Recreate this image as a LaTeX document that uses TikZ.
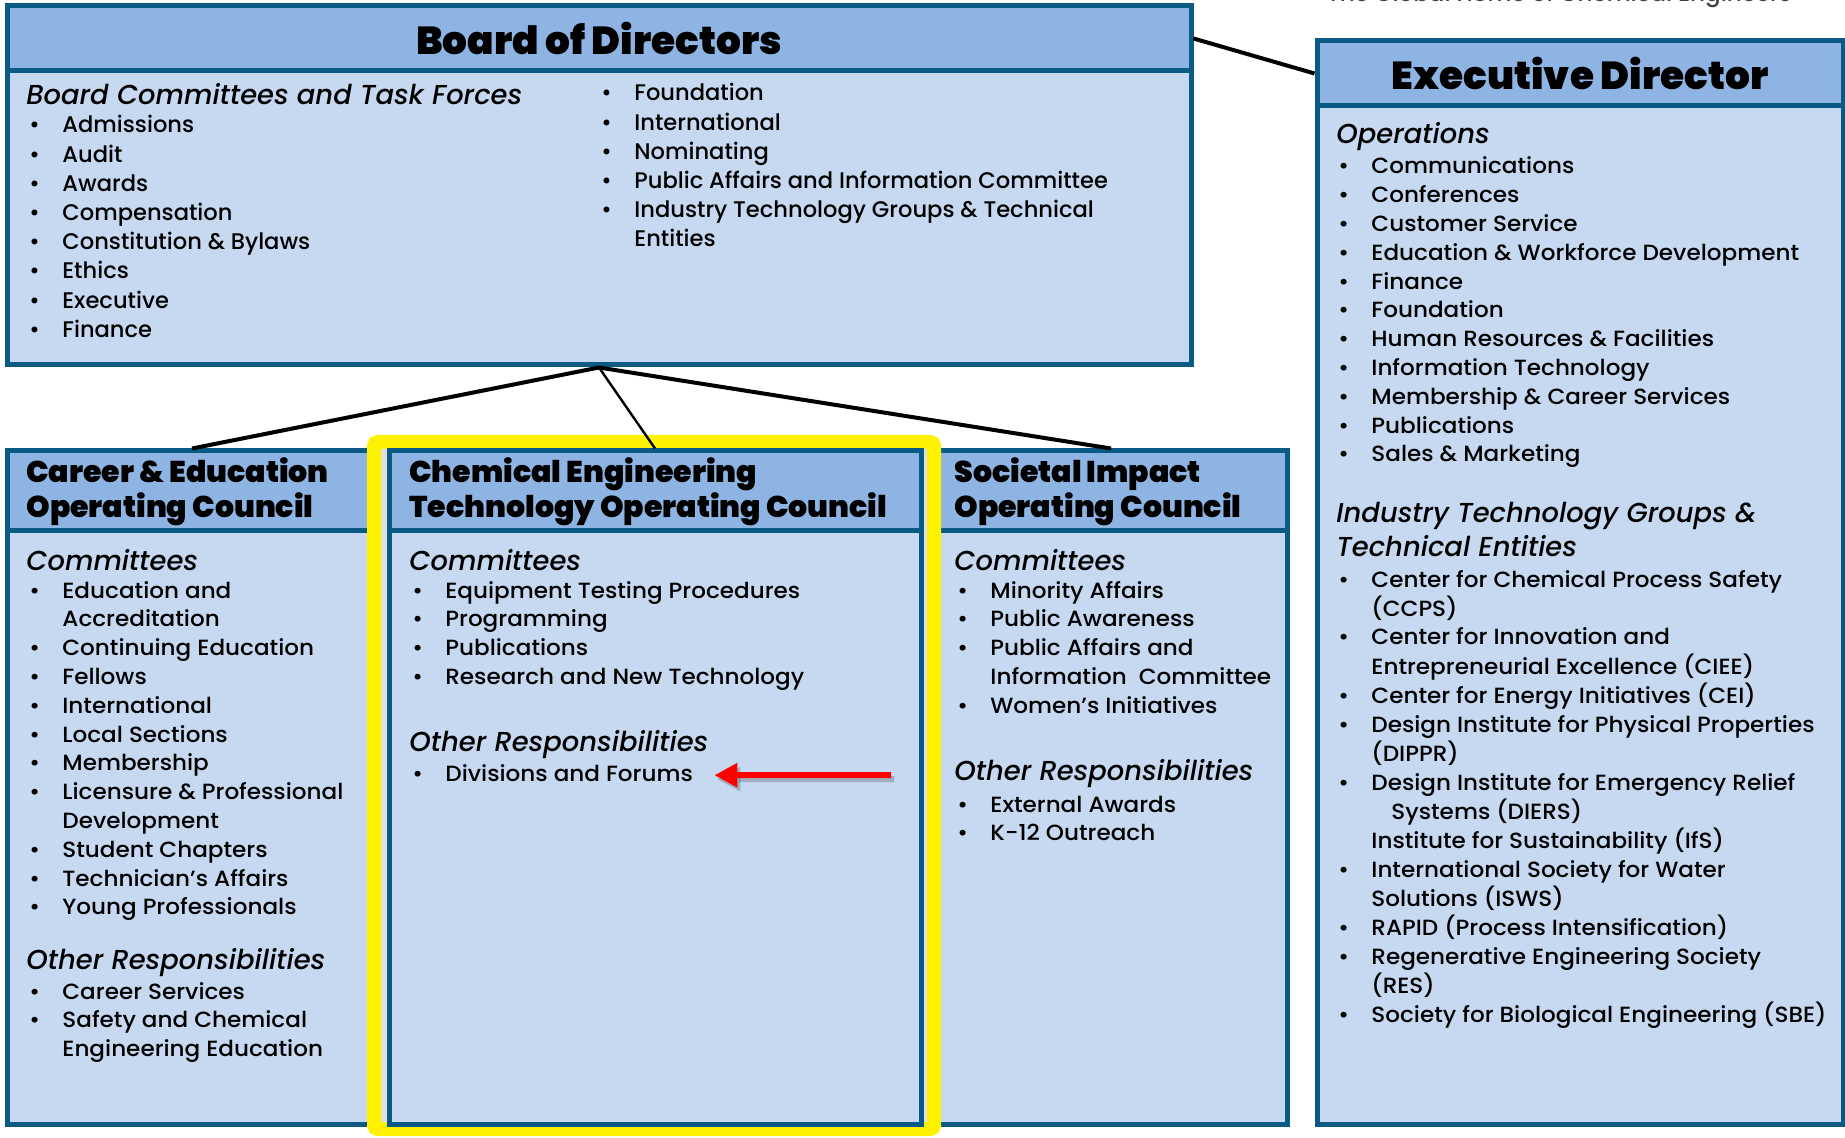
\documentclass[tikz,border=0pt]{standalone}
\usepackage{fontspec}
\setmainfont{Poppins Medium}[ItalicFont={Poppins Medium Italic}]
\newfontfamily\heavyfont{Poppins Black}
\newfontfamily\widefont{Poppins Medium}[FakeStretch=1.05]
\usetikzlibrary{fit,arrows.meta}

\definecolor{boxline}{HTML}{0B5A85}
\definecolor{headfill}{HTML}{8EB4E3}
\definecolor{bodyfill}{HTML}{C6D9F1}

\newcommand{\itemtab}[1]{\begin{tabular}[t]{@{}p{16.5pt}@{}l@{}}#1\end{tabular}}
\newcommand{\linetab}[1]{\begin{tabular}[t]{@{}l@{}}#1\end{tabular}}

\begin{document}
\begin{tikzpicture}[x=0.5pt,y=-0.5pt,
    panel/.style={draw=boxline,line width=2.5pt,fill=bodyfill,inner sep=0pt},
    panelhead/.style={draw=boxline,line width=2.5pt,fill=headfill,inner sep=0pt},
    bigtitle/.style={inner sep=0pt,font=\heavyfont\fontsize{19.5}{22}\selectfont},
    counciltitle/.style={anchor=base west,inner sep=0pt,font=\heavyfont\fontsize{15}{17.5}\selectfont},
    section/.style={anchor=base west,inner sep=0pt,font=\itshape\fontsize{13.7}{17}\selectfont},
    itemlist/.style={anchor=base west,inner sep=0pt,font=\widefont\fontsize{11}{14.4}\selectfont},
    boardlist/.style={anchor=base west,inner sep=0pt,font=\fontsize{11.3}{14.6}\selectfont},
    link/.style={line width=2pt},
    redarrow/.style={draw=red,line width=3pt,-{Triangle[length=11.5pt,width=11.5pt]}}]
\useasboundingbox (0,0) rectangle (1845,1138);

% tagline, cut at the top edge
\node[anchor=base,inner sep=0pt,text=black!75,font=\fontsize{11.5}{13}\selectfont] (tagline) at (1559,2) {The Global Home of Chemical Engineers};

% board of directors
\node[panel,fit={(7,6) (1191,365)}] (board) {};
\node[panelhead,fit={(7,6) (1191,71)}] (board-head) {};
\node[bigtitle] (board-title) at (board-head.center) {Board of Directors};
\node[section] (board-sec) at (26,105) {Board Committees and Task Forces};
\node[boardlist] (board-list-a) at (29,133) {\itemtab{
  \textbullet & Admissions\\ \textbullet & Audit\\ \textbullet & Awards\\
  \textbullet & Compensation\\ \textbullet & Constitution \& Bylaws\\
  \textbullet & Ethics\\ \textbullet & Executive\\ \textbullet & Finance}};
\node[boardlist] (board-list-b) at (601,101) {\itemtab{
  \textbullet & Foundation\\ \textbullet & International\\ \textbullet & Nominating\\
  \textbullet & Public Affairs and Information Committee\\
  \textbullet & Industry Technology Groups \& Technical\\ & Entities}};

% operating councils
\node[panel,fit={(7,451) (377,1124)}] (ce) {};
\node[panelhead,fit={(7,451) (377,530)}] (ce-head) {};
\node[panel,fit={(935,451) (1287,1124)}] (si) {};
\node[panelhead,fit={(935,451) (1287,530)}] (si-head) {};
\node[fit={(374,442) (934,1129)},inner sep=0pt,draw=yellow,line width=7pt,fill=black!12,rounded corners=2pt] (highlight) {};
\node[panel,fit={(389,451) (921,1124)}] (ct) {};
\node[panelhead,fit={(389,451) (921,530)}] (ct-head) {};

\node[counciltitle] (ce-title) at (26,482) {\linetab{Career \& Education\\Operating Council}};
\node[section] (ce-com) at (26,570) {Committees};
\node[itemlist] (ce-com-list) at (29,598) {\itemtab{
  \textbullet & Education and\\ & Accreditation\\ \textbullet & Continuing Education\\
  \textbullet & Fellows\\ \textbullet & International\\ \textbullet & Local Sections\\
  \textbullet & Membership\\ \textbullet & Licensure \& Professional\\ & Development\\
  \textbullet & Student Chapters\\ \textbullet & Technician’s Affairs\\
  \textbullet & Young Professionals}};
\node[section] (ce-oth) at (26,969) {Other Responsibilities};
\node[itemlist] (ce-oth-list) at (29,999) {\itemtab{
  \textbullet & Career Services\\ \textbullet & Safety and Chemical\\ & Engineering Education}};

\node[counciltitle] (ct-title) at (409,482) {\linetab{Chemical Engineering\\Technology Operating Council}};
\node[section] (ct-com) at (409,570) {Committees};
\node[itemlist] (ct-com-list) at (412,598) {\itemtab{
  \textbullet & Equipment Testing Procedures\\ \textbullet & Programming\\
  \textbullet & Publications\\ \textbullet & Research and New Technology}};
\node[section] (ct-oth) at (409,751) {Other Responsibilities};
\node[itemlist] (ct-oth-list) at (412,781) {\itemtab{\textbullet & Divisions and Forums}};

\node[counciltitle] (si-title) at (954,482) {\linetab{Societal Impact\\Operating Council}};
\node[section] (si-com) at (954,570) {Committees};
\node[itemlist] (si-com-list) at (957,598) {\itemtab{
  \textbullet & Minority Affairs\\ \textbullet & Public Awareness\\
  \textbullet & Public Affairs and\\ & Information~ Committee\\
  \textbullet & Women’s Initiatives}};
\node[section] (si-oth) at (954,780) {Other Responsibilities};
\node[itemlist] (si-oth-list) at (957,812) {\itemtab{
  \textbullet & External Awards\\ \textbullet & K-12 Outreach}};

% executive director
\node[panel,fit={(1317,41) (1843,1124)}] (exec) {};
\node[panelhead,fit={(1317,41) (1843,106)}] (exec-head) {};
\node[bigtitle] (exec-title) at (exec-head.center) {Executive Director};
\node[section] (exec-ops) at (1336,144) {Operations};
\node[itemlist] (exec-ops-list) at (1338,174) {\itemtab{
  \textbullet & Communications\\ \textbullet & Conferences\\ \textbullet & Customer Service\\
  \textbullet & Education \& Workforce Development\\ \textbullet & Finance\\
  \textbullet & Foundation\\ \textbullet & Human Resources \& Facilities\\
  \textbullet & Information Technology\\ \textbullet & Membership \& Career Services\\
  \textbullet & Publications\\ \textbullet & Sales \& Marketing}};
\node[section] (exec-itg) at (1336,523) {\linetab{Industry Technology Groups \&\\Technical Entities}};
\node[itemlist] (exec-itg-list) at (1338,587) {\itemtab{
  \textbullet & Center for Chemical Process Safety\\ & (CCPS)\\
  \textbullet & Center for Innovation and\\ & Entrepreneurial Excellence (CIEE)\\
  \textbullet & Center for Energy Initiatives (CEI)\\
  \textbullet & Design Institute for Physical Properties\\ & (DIPPR)\\
  \textbullet & Design Institute for Emergency Relief\\ & \hspace{10pt}Systems (DIERS)\\
  & Institute for Sustainability (IfS)\\
  \textbullet & International Society for Water\\ & Solutions (ISWS)\\
  \textbullet & RAPID (Process Intensification)\\
  \textbullet & Regenerative Engineering Society\\ & (RES)\\
  \textbullet & Society for Biological Engineering (SBE)}};

% connectors
\draw[link] (board-head.east) -- (exec-head.west);
\draw[link] (board.south) -- (ce.north);
\draw[link,line width=1.2pt] (board.south) -- (ct.north);
\draw[link] (board.south) -- (si.north);

% pointer to divisions
\coordinate (arrow-tail) at (891,775);
\draw[redarrow,draw=black,opacity=0.2,transform canvas={shift={(1.5pt,-2pt)}}] (arrow-tail) -- ([xshift=10.5pt]ct-oth-list.east);
\draw[redarrow] (arrow-tail) -- ([xshift=10.5pt]ct-oth-list.east);
\end{tikzpicture}
\end{document}
